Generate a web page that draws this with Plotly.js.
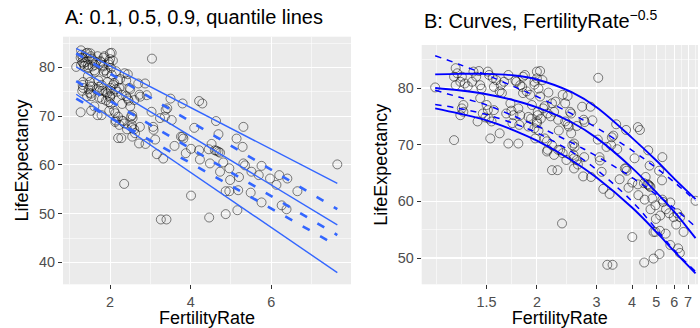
<!DOCTYPE html>
<html><head><meta charset="utf-8">
<script src="https://cdn.plot.ly/plotly-3.0.1.min.js"></script>
<style>html,body{margin:0;padding:0;background:#fff}#chart{width:700px;height:328px}</style>
</head><body><div id="chart"></div>
<script>
// ---- data ----
const fertilityRate = [
1.16,1.28,1.29,1.27,1.32,1.31,1.28,1.34,1.40,1.42,1.39,1.45,1.46,1.51,1.52,1.58,1.56,1.61,1.69,1.77,
1.81,1.83,1.88,1.92,1.97,2.00,1.33,1.32,1.33,1.31,1.45,1.50,1.51,1.43,1.52,1.54,1.56,1.61,1.53,1.27,
1.69,1.79,1.71,1.67,1.74,1.72,1.81,1.79,1.90,1.93,1.84,1.94,2.01,2.00,1.97,1.49,1.47,1.36,1.44,1.55,
1.63,1.65,1.76,1.86,1.84,1.62,1.73,1.90,1.80,
2.04,2.00,2.07,1.97,2.04,2.02,2.36,2.40,2.20,2.08,2.10,2.14,2.23,2.01,2.05,2.18,2.29,2.40,2.44,2.50,
2.70,2.73,2.75,2.50,2.46,2.55,2.52,2.56,2.10,2.13,2.00,2.02,1.98,2.20,2.36,2.32,2.13,2.20,2.28,2.35,
2.54,2.60,2.62,2.72,2.25,2.44,2.30,2.15,2.60,2.48,2.14,2.23,2.29,2.42,2.55,2.55,2.74,
2.87,2.91,2.88,3.04,3.03,3.07,3.08,3.12,3.16,3.32,3.26,3.40,3.38,3.42,3.36,3.24,3.50,3.53,3.60,3.80,
3.76,3.80,3.82,3.88,4.01,4.01,4.09,4.21,4.29,4.21,4.23,4.45,4.52,4.48,4.46,4.63,4.69,4.64,4.69,4.60,
4.73,4.73,4.81,4.87,4.87,4.96,4.98,4.96,5.14,5.16,5.18,5.20,5.31,5.29,5.31,5.35,5.51,5.49,5.69,5.76,
5.76,5.97,6.13,6.20,6.26,6.38,6.40,6.65,7.64];
const lifeExpectancy = [
80.1,83.5,82.6,82.0,82.0,81.1,80.5,80.8,82.9,82.0,81.1,80.5,79.9,82.9,82.3,81.4,80.2,79.4,82.3,81.1,
80.5,80.2,79.4,78.8,81.1,82.9,77.0,76.4,75.8,75.2,78.2,77.0,76.1,74.1,74.6,74.1,76.1,72.0,71.1,70.8,
70.2,70.2,77.3,75.5,75.2,76.0,75.2,76.4,74.9,74.6,79.1,77.0,75.8,74.1,72.9,74.8,75.5,80.3,83.0,81.8,
79.1,81.1,81.3,82.3,82.0,80.5,73.8,73.2,73.5,
83.0,81.7,81.4,80.6,78.5,79.9,78.8,77.3,77.3,76.4,76.8,75.5,75.8,75.2,74.6,75.0,74.4,74.1,73.6,75.5,
76.7,74.4,74.0,72.0,73.2,70.2,69.9,69.6,71.1,70.6,73.8,72.5,71.1,69.9,68.5,69.0,68.8,65.5,65.5,56.1,
68.2,67.3,66.5,64.4,77.6,78.6,72.5,79.2,73.3,75.8,69.1,68.2,69.1,67.3,67.6,65.8,67.8,
76.7,74.3,64.3,81.8,70.9,67.8,67.2,65.2,62.2,61.3,48.8,48.8,71.3,71.6,69.9,69.6,73.6,69.2,63.9,72.6,
65.8,65.8,65.4,62.4,53.7,63.3,67.6,73.1,72.6,63.0,61.1,63.2,64.3,60.3,49.2,69.0,66.3,62.9,62.7,63.0,
62.5,58.6,60.5,54.6,49.9,54.6,56.9,59.3,65.4,50.7,54.8,57.5,67.8,63.7,60.3,59.9,58.6,54.3,57.9,59.8,
52.3,57.2,55.9,57.9,51.7,50.9,57.2,54.6,60.1];

// Panel A: straight quantile lines (endpoints)
const lineA_x   = [1.16, 7.64];
const lineA_q90 = [83.9, 56.2];
const lineA_q50 = [80.1, 47.7];
const lineA_q10 = [74.5, 37.9];
const dashA_1   = [82.9, 50.9];
const dashA_2   = [77.2, 45.6];
const dashA_3   = [73.6, 43.4];

// Panel B: curves sampled along FertilityRate
const curveB_x   = [1.16, 1.3, 1.5, 1.75, 2, 2.5, 3, 4, 5, 6, 7.64];
const curveB_q90 = [82.4, 82.5, 82.5, 82.2, 81.5, 79.3, 76.6, 71.2, 67.2, 64.0, 60.4];
const curveB_q50 = [80.0, 79.6, 78.9, 77.8, 76.6, 74.0, 71.2, 65.9, 61.6, 58.2, 53.5];
const curveB_q10 = [76.4, 75.5, 74.3, 72.5, 70.7, 67.3, 64.2, 58.9, 54.6, 51.2, 47.3];
const dashB_1    = [85.7, 84.2, 82.3, 80.2, 78.5, 75.5, 73.0, 69.0, 65.9, 63.4, 60.1];
const dashB_2    = [79.6, 78.4, 77.0, 75.0, 73.3, 70.4, 68.0, 64.2, 61.2, 58.8, 55.5];
const dashB_3    = [77.1, 76.4, 75.3, 73.7, 72.1, 68.8, 65.6, 60.0, 55.1, 51.4, 47.6];

const ticksA_x = [2, 4, 6];
const ticksA_y = [40, 50, 60, 70, 80];
const ticksB_x = [1.5, 2, 3, 4, 5, 6, 7];
const labelsB_x = ['1.5', '2', '3', '4', '5', '6', '7'];
const ticksB_y = [50, 60, 70, 80];

// ---- transformation for panel B: FertilityRate^-0.5 (reversed) ----
const tr = v => -Math.pow(v, -0.5);
const uB = ticksB_x.map(tr);
// ggplot-style minor breaks in transformed space
const minorB = [];
{
  const b = uB.slice();
  const ext = [b[0] - (b[1] - b[0])].concat(b, [b[b.length-1] + (b[b.length-1] - b[b.length-2])]);
  for (let i = 0; i < ext.length; i++) {
    minorB.push(ext[i]);
    if (i < ext.length - 1) minorB.push((ext[i] + ext[i+1]) / 2);
  }
}

const FONT = 'Liberation Sans, Arial, Helvetica, sans-serif';
const colA = '#3366FF', colB = '#0000FF';
const pts = {mode: 'markers', type: 'scatter', hoverinfo: 'skip',
  marker: {symbol: 'circle-open', size: 9, color: 'rgba(0,0,0,0.55)', line: {width: 0.9}}};

const traces = [];
traces.push(Object.assign({}, pts, {x: fertilityRate, y: lifeExpectancy, xaxis: 'x', yaxis: 'y'}));
[lineA_q90, lineA_q50, lineA_q10].forEach(q => traces.push({x: lineA_x, y: q, mode: 'lines', type: 'scatter',
  xaxis: 'x', yaxis: 'y', line: {color: colA, width: 1.4}}));
[dashA_1, dashA_2, dashA_3].forEach(q => traces.push({x: lineA_x, y: q, mode: 'lines', type: 'scatter',
  xaxis: 'x', yaxis: 'y', line: {color: colA, width: 2.6, dash: '8px,12px'}}));

traces.push(Object.assign({}, pts, {x: fertilityRate.map(tr), y: lifeExpectancy, xaxis: 'x2', yaxis: 'y2'}));
[curveB_q90, curveB_q50, curveB_q10].forEach(q => traces.push({x: curveB_x.map(tr), y: q, mode: 'lines', type: 'scatter',
  xaxis: 'x2', yaxis: 'y2', line: {color: colB, width: 1.9, shape: 'spline', smoothing: 1}}));
[dashB_1, dashB_2, dashB_3].forEach(q => traces.push({x: curveB_x.map(tr), y: q, mode: 'lines', type: 'scatter',
  xaxis: 'x2', yaxis: 'y2', line: {color: colB, width: 1.5, dash: '6px,6px', shape: 'spline', smoothing: 1}}));

const axisCommon = {
  showline: false, zeroline: false, ticks: 'outside', ticklen: 4, tickwidth: 1, tickcolor: '#333333',
  gridcolor: '#FFFFFF', gridwidth: 1.1, tickfont: {family: FONT, size: 14.4, color: '#4D4D4D'},
  fixedrange: true
};
const minorGrid = vals => ({tickmode: 'array', tickvals: vals, ticks: '', showgrid: true, gridcolor: '#FFFFFF', gridwidth: 0.55});

const layout = {
  width: 700, height: 328, margin: {l: 0, r: 0, t: 0, b: 0},
  paper_bgcolor: '#FFFFFF', plot_bgcolor: '#EBEBEB', showlegend: false,
  font: {family: FONT},
  xaxis: Object.assign({}, axisCommon, {domain: [63/700, 351/700], range: [0.832, 7.98],
    tickmode: 'array', tickvals: ticksA_x, minor: minorGrid([1, 3, 5, 7]),
    title: {text: 'FertilityRate', font: {family: FONT, size: 18, color: '#000'}, standoff: 6}}),
  yaxis: Object.assign({}, axisCommon, {domain: [(328-284.3)/328, (328-36.7)/328], range: [35.5, 86.3],
    tickmode: 'array', tickvals: ticksA_y, minor: minorGrid([45, 55, 65, 75, 85]),
    title: {text: 'LifeExpectancy', font: {family: FONT, size: 18, color: '#000'}, standoff: 5}}),
  xaxis2: Object.assign({}, axisCommon, {anchor: 'y2', domain: [421.7/700, 698/700], range: [-0.9578, -0.3564],
    tickmode: 'array', tickvals: uB, ticktext: labelsB_x, minor: minorGrid(minorB),
    title: {text: 'FertilityRate', font: {family: FONT, size: 18, color: '#000'}, standoff: 6}}),
  yaxis2: Object.assign({}, axisCommon, {anchor: 'x2', domain: [(328-284.3)/328, (328-45)/328], range: [45.36, 87.59],
    tickmode: 'array', tickvals: ticksB_y, minor: minorGrid([45, 55, 65, 75, 85]),
    title: {text: 'LifeExpectancy', font: {family: FONT, size: 18, color: '#000'}, standoff: 5}}),
  annotations: [
    {text: 'A: 0.1, 0.5, 0.9, quantile lines', xref: 'paper', yref: 'paper', x: 63/700, y: 1 - 17/328,
     xanchor: 'left', yanchor: 'middle', showarrow: false, font: {family: FONT, size: 20, color: '#000'}},
    {text: 'B: Curves, FertilityRate<sup>−0.5</sup>', xref: 'paper', yref: 'paper', x: 421.7/700, y: 1 - 19/328,
     xanchor: 'left', yanchor: 'middle', showarrow: false, font: {family: FONT, size: 20, color: '#000'}}
  ]
};

Plotly.newPlot('chart', traces, layout, {staticPlot: true, displayModeBar: false});
</script>
</body></html>
